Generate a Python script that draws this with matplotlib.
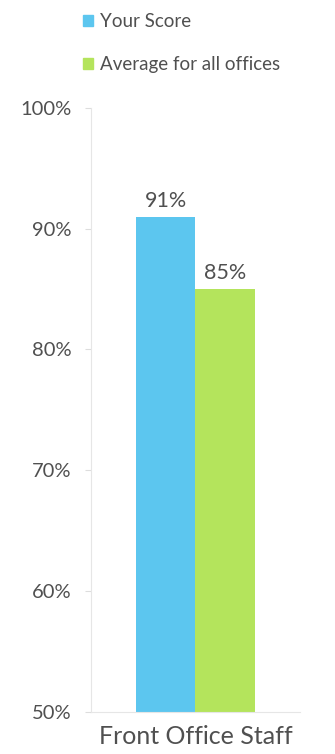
import matplotlib.pyplot as plt
from matplotlib.patches import Patch

categories = ["Front Office Staff"]
series_names = ["Your Score", "Average for all offices"]
your_score = [91]
average = [85]
yticks = [50, 60, 70, 80, 90, 100]

colors = ["#5cc6ef", "#b4e45c"]
text_color = "#505050"

plt.rcParams['font.family'] = ['Lato', 'DejaVu Sans']

fig = plt.figure(figsize=(3.35, 7.54), dpi=100)
ax = fig.add_axes([0.272, 0.0557, 0.623, 0.8013])

w = 0.287
x = list(range(len(categories)))
b1 = ax.bar([i - w / 2 for i in x], your_score, width=w, color=colors[0], bottom=0)
b2 = ax.bar([i + w / 2 for i in x], average, width=w, color=colors[1], bottom=0)

for bars, vals in ((b1, your_score), (b2, average)):
    for rect, v in zip(bars, vals):
        ax.text(rect.get_x() + rect.get_width() / 2, v + 0.5, f"{v}%",
                ha="center", va="bottom", fontsize=15.5, color=text_color)

ax.set_ylim(50, 100)
ax.set_xlim(-0.5, 0.5)
ax.set_yticks(yticks)
ax.set_yticklabels([f"{t}%" for t in yticks], fontsize=14.5, color=text_color)
ax.set_xticks(x)
ax.set_xticklabels(categories, fontsize=18, color=text_color)
ax.tick_params(axis="y", length=4, color="#dddddd", pad=10)
ax.tick_params(axis="x", length=0, pad=9)

for s in ("top", "right"):
    ax.spines[s].set_visible(False)
ax.spines["left"].set_color("#e6e6e6")
ax.spines["bottom"].set_color("#e6e6e6")

handles = [Patch(color=c) for c in colors]
fig.legend(handles, series_names, loc="upper left",
           bbox_to_anchor=(66 / 335, 1 + 4 / 754), frameon=False,
           handlelength=0.55, handleheight=0.55, handletextpad=0.35,
           labelspacing=1.4, fontsize=13.5, labelcolor=text_color)

fig.savefig("out.png", dpi=100)
